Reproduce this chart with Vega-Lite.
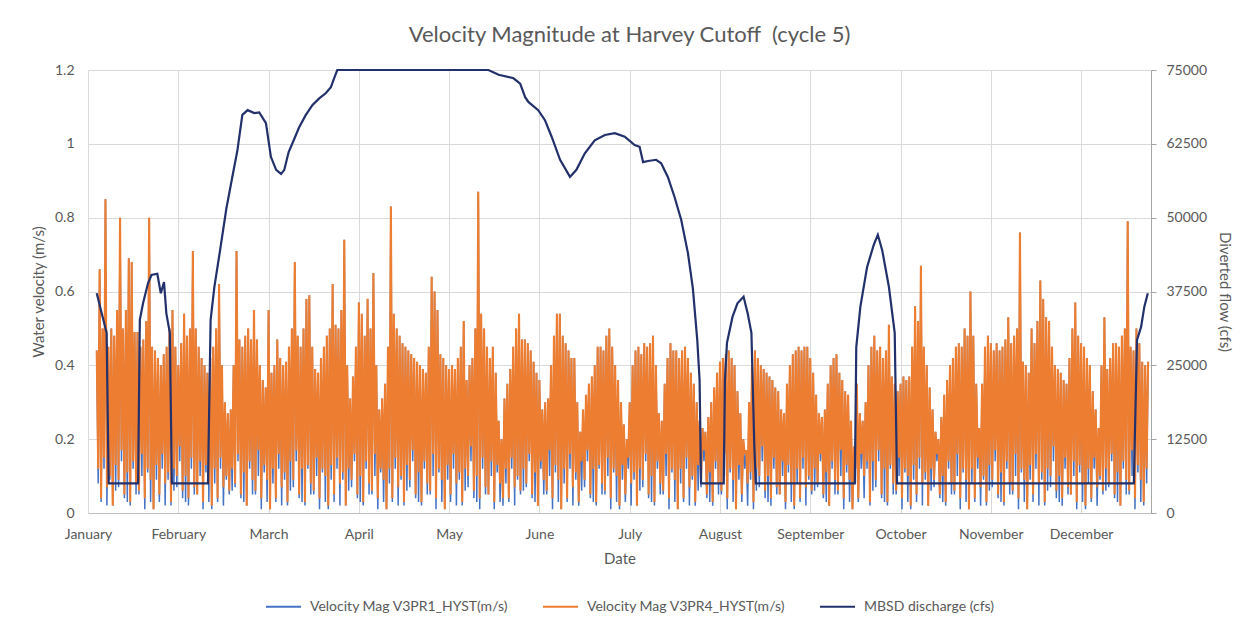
{
  "$schema": "https://vega.github.io/schema/vega-lite/v6.json",
  "width": 1063,
  "height": 443,
  "autosize": {"type": "none"},
  "padding": {"left": 88, "top": 70, "right": 100, "bottom": 115},
  "background": "white",
  "title": {
    "text": "Velocity Magnitude at Harvey Cutoff \u00a0(cycle 5)",
    "font": "Lato",
    "fontSize": 22,
    "fontWeight": "normal",
    "color": "#595959",
    "anchor": "middle",
    "offset": 16,
    "dx": 10
  },
  "config": {
    "font": "Lato",
    "view": {"stroke": null},
    "axis": {
      "labelColor": "#595959",
      "labelFontSize": 14,
      "titleColor": "#595959",
      "titleFontSize": 15,
      "titleFontWeight": "normal",
      "gridColor": "#d9d9d9",
      "gridWidth": 1
    }
  },
  "datasets": {
    "vel": [
      {"d":3,"o":0.44,"b":0.44},{"d":3.5,"o":0.12,"b":0.08},
      {"d":4,"o":0.66,"b":0.66},{"d":4.5,"o":0.04,"b":0.03},
      {"d":5,"o":0.50,"b":0.50},{"d":5.5,"o":0.15,"b":0.12},
      {"d":6,"o":0.85,"b":0.85},{"d":6.5,"o":0.07,"b":0.02},
      {"d":7,"o":0.45,"b":0.45},{"d":7.5,"o":0.10,"b":0.09},
      {"d":8,"o":0.50,"b":0.50},{"d":8.5,"o":0.02,"b":0.02},
      {"d":9,"o":0.48,"b":0.48},{"d":9.5,"o":0.13,"b":0.06},
      {"d":10,"o":0.55,"b":0.55},{"d":10.5,"o":0.09,"b":0.07},
      {"d":11,"o":0.80,"b":0.80},{"d":11.5,"o":0.17,"b":0.14},
      {"d":12,"o":0.50,"b":0.50},{"d":12.5,"o":0.05,"b":0.04},
      {"d":13,"o":0.55,"b":0.55},{"d":13.5,"o":0.11,"b":0.03},
      {"d":14,"o":0.69,"b":0.69},{"d":14.5,"o":0.03,"b":0.02},
      {"d":15,"o":0.68,"b":0.68},{"d":15.5,"o":0.14,"b":0.12},
      {"d":16,"o":0.49,"b":0.49},{"d":16.5,"o":0.08,"b":0.05},
      {"d":17,"o":0.49,"b":0.49},{"d":17.5,"o":0.06,"b":0.05},
      {"d":18,"o":0.45,"b":0.45},{"d":18.5,"o":0.16,"b":0.10},
      {"d":19,"o":0.47,"b":0.47},{"d":19.5,"o":0.04,"b":0.01},
      {"d":20,"o":0.52,"b":0.52},{"d":20.5,"o":0.12,"b":0.11},
      {"d":21,"o":0.80,"b":0.80},{"d":21.5,"o":0.09,"b":0.03},
      {"d":22,"o":0.45,"b":0.45},{"d":22.5,"o":0.01,"b":0.01},
      {"d":23,"o":0.44,"b":0.44},{"d":23.5,"o":0.13,"b":0.09},
      {"d":24,"o":0.42,"b":0.42},{"d":24.5,"o":0.05,"b":0.03},
      {"d":25,"o":0.40,"b":0.40},{"d":25.5,"o":0.16,"b":0.12},
      {"d":26,"o":0.43,"b":0.43},{"d":26.5,"o":0.08,"b":0.02},
      {"d":27,"o":0.45,"b":0.45},{"d":27.5,"o":0.11,"b":0.09},
      {"d":28,"o":0.50,"b":0.50},{"d":28.5,"o":0.03,"b":0.02},
      {"d":29,"o":0.55,"b":0.55},{"d":29.5,"o":0.12,"b":0.06},
      {"d":30,"o":0.45,"b":0.45},{"d":30.5,"o":0.10,"b":0.07},
      {"d":31,"o":0.40,"b":0.40},{"d":31.5,"o":0.18,"b":0.14},
      {"d":32,"o":0.46,"b":0.46},{"d":32.5,"o":0.06,"b":0.04},
      {"d":33,"o":0.54,"b":0.54},{"d":33.5,"o":0.10,"b":0.03},
      {"d":34,"o":0.48,"b":0.48},{"d":34.5,"o":0.04,"b":0.02},
      {"d":35,"o":0.50,"b":0.50},{"d":35.5,"o":0.15,"b":0.12},
      {"d":36,"o":0.71,"b":0.71},{"d":36.5,"o":0.07,"b":0.05},
      {"d":37,"o":0.50,"b":0.50},{"d":37.5,"o":0.05,"b":0.05},
      {"d":38,"o":0.45,"b":0.45},{"d":38.5,"o":0.14,"b":0.10},
      {"d":39,"o":0.42,"b":0.42},{"d":39.5,"o":0.03,"b":0.01},
      {"d":40,"o":0.40,"b":0.40},{"d":40.5,"o":0.13,"b":0.11},
      {"d":41,"o":0.38,"b":0.38},{"d":41.5,"o":0.08,"b":0.03},
      {"d":42,"o":0.42,"b":0.42},{"d":42.5,"o":0.02,"b":0.01},
      {"d":43,"o":0.45,"b":0.45},{"d":43.5,"o":0.12,"b":0.08},
      {"d":44,"o":0.50,"b":0.50},{"d":44.5,"o":0.04,"b":0.03},
      {"d":45,"o":0.62,"b":0.62},{"d":45.5,"o":0.15,"b":0.12},
      {"d":46,"o":0.40,"b":0.40},{"d":46.5,"o":0.07,"b":0.02},
      {"d":47,"o":0.30,"b":0.30},{"d":47.5,"o":0.10,"b":0.09},
      {"d":48,"o":0.27,"b":0.27},{"d":48.5,"o":0.06,"b":0.05},
      {"d":49,"o":0.28,"b":0.28},{"d":49.5,"o":0.12,"b":0.06},
      {"d":50,"o":0.40,"b":0.40},{"d":50.5,"o":0.08,"b":0.07},
      {"d":51,"o":0.71,"b":0.71},{"d":51.5,"o":0.16,"b":0.14},
      {"d":52,"o":0.47,"b":0.47},{"d":52.5,"o":0.05,"b":0.04},
      {"d":53,"o":0.45,"b":0.45},{"d":53.5,"o":0.11,"b":0.03},
      {"d":54,"o":0.48,"b":0.48},{"d":54.5,"o":0.02,"b":0.02},
      {"d":55,"o":0.50,"b":0.50},{"d":55.5,"o":0.14,"b":0.12},
      {"d":56,"o":0.47,"b":0.47},{"d":56.5,"o":0.09,"b":0.05},
      {"d":57,"o":0.55,"b":0.55},{"d":57.5,"o":0.06,"b":0.05},
      {"d":58,"o":0.47,"b":0.47},{"d":58.5,"o":0.17,"b":0.10},
      {"d":59,"o":0.40,"b":0.40},{"d":59.5,"o":0.04,"b":0.01},
      {"d":60,"o":0.36,"b":0.36},{"d":60.5,"o":0.13,"b":0.11},
      {"d":61,"o":0.34,"b":0.34},{"d":61.5,"o":0.09,"b":0.03},
      {"d":62,"o":0.55,"b":0.55},{"d":62.5,"o":0.01,"b":0.01},
      {"d":63,"o":0.38,"b":0.38},{"d":63.5,"o":0.12,"b":0.08},
      {"d":64,"o":0.40,"b":0.40},{"d":64.5,"o":0.04,"b":0.03},
      {"d":65,"o":0.47,"b":0.47},{"d":65.5,"o":0.16,"b":0.12},
      {"d":66,"o":0.42,"b":0.42},{"d":66.5,"o":0.07,"b":0.02},
      {"d":67,"o":0.40,"b":0.40},{"d":67.5,"o":0.11,"b":0.09},
      {"d":68,"o":0.41,"b":0.41},{"d":68.5,"o":0.03,"b":0.02},
      {"d":69,"o":0.45,"b":0.45},{"d":69.5,"o":0.14,"b":0.06},
      {"d":70,"o":0.50,"b":0.50},{"d":70.5,"o":0.09,"b":0.07},
      {"d":71,"o":0.68,"b":0.68},{"d":71.5,"o":0.17,"b":0.14},
      {"d":72,"o":0.48,"b":0.48},{"d":72.5,"o":0.05,"b":0.04},
      {"d":73,"o":0.45,"b":0.45},{"d":73.5,"o":0.12,"b":0.03},
      {"d":74,"o":0.50,"b":0.50},{"d":74.5,"o":0.03,"b":0.02},
      {"d":75,"o":0.58,"b":0.58},{"d":75.5,"o":0.13,"b":0.12},
      {"d":76,"o":0.59,"b":0.59},{"d":76.5,"o":0.08,"b":0.05},
      {"d":77,"o":0.45,"b":0.45},{"d":77.5,"o":0.06,"b":0.05},
      {"d":78,"o":0.39,"b":0.39},{"d":78.5,"o":0.15,"b":0.10},
      {"d":79,"o":0.38,"b":0.38},{"d":79.5,"o":0.04,"b":0.01},
      {"d":80,"o":0.42,"b":0.42},{"d":80.5,"o":0.12,"b":0.11},
      {"d":81,"o":0.45,"b":0.45},{"d":81.5,"o":0.10,"b":0.03},
      {"d":82,"o":0.48,"b":0.48},{"d":82.5,"o":0.02,"b":0.01},
      {"d":83,"o":0.50,"b":0.50},{"d":83.5,"o":0.13,"b":0.09},
      {"d":84,"o":0.62,"b":0.62},{"d":84.5,"o":0.05,"b":0.03},
      {"d":85,"o":0.51,"b":0.51},{"d":85.5,"o":0.15,"b":0.12},
      {"d":86,"o":0.50,"b":0.50},{"d":86.5,"o":0.08,"b":0.02},
      {"d":87,"o":0.55,"b":0.55},{"d":87.5,"o":0.11,"b":0.09},
      {"d":88,"o":0.74,"b":0.74},{"d":88.5,"o":0.02,"b":0.02},
      {"d":89,"o":0.40,"b":0.40},{"d":89.5,"o":0.12,"b":0.06},
      {"d":90,"o":0.31,"b":0.31},{"d":90.5,"o":0.09,"b":0.07},
      {"d":91,"o":0.37,"b":0.37},{"d":91.5,"o":0.16,"b":0.14},
      {"d":92,"o":0.45,"b":0.45},{"d":92.5,"o":0.05,"b":0.04},
      {"d":93,"o":0.57,"b":0.57},{"d":93.5,"o":0.10,"b":0.03},
      {"d":94,"o":0.54,"b":0.54},{"d":94.5,"o":0.03,"b":0.02},
      {"d":95,"o":0.48,"b":0.48},{"d":95.5,"o":0.14,"b":0.12},
      {"d":96,"o":0.58,"b":0.58},{"d":96.5,"o":0.08,"b":0.05},
      {"d":97,"o":0.50,"b":0.50},{"d":97.5,"o":0.06,"b":0.05},
      {"d":98,"o":0.65,"b":0.65},{"d":98.5,"o":0.16,"b":0.10},
      {"d":99,"o":0.40,"b":0.40},{"d":99.5,"o":0.04,"b":0.01},
      {"d":100,"o":0.28,"b":0.28},{"d":100.5,"o":0.12,"b":0.11},
      {"d":101,"o":0.31,"b":0.31},{"d":101.5,"o":0.09,"b":0.03},
      {"d":102,"o":0.35,"b":0.35},{"d":102.5,"o":0.01,"b":0.01},
      {"d":103,"o":0.45,"b":0.45},{"d":103.5,"o":0.12,"b":0.08},
      {"d":104,"o":0.83,"b":0.83},{"d":104.5,"o":0.04,"b":0.03},
      {"d":105,"o":0.54,"b":0.54},{"d":105.5,"o":0.15,"b":0.12},
      {"d":106,"o":0.50,"b":0.50},{"d":106.5,"o":0.07,"b":0.02},
      {"d":107,"o":0.48,"b":0.48},{"d":107.5,"o":0.10,"b":0.09},
      {"d":108,"o":0.46,"b":0.46},{"d":108.5,"o":0.03,"b":0.02},
      {"d":109,"o":0.45,"b":0.45},{"d":109.5,"o":0.13,"b":0.06},
      {"d":110,"o":0.44,"b":0.44},{"d":110.5,"o":0.09,"b":0.07},
      {"d":111,"o":0.43,"b":0.43},{"d":111.5,"o":0.17,"b":0.14},
      {"d":112,"o":0.42,"b":0.42},{"d":112.5,"o":0.05,"b":0.04},
      {"d":113,"o":0.41,"b":0.41},{"d":113.5,"o":0.11,"b":0.03},
      {"d":114,"o":0.40,"b":0.40},{"d":114.5,"o":0.03,"b":0.02},
      {"d":115,"o":0.39,"b":0.39},{"d":115.5,"o":0.14,"b":0.12},
      {"d":116,"o":0.38,"b":0.38},{"d":116.5,"o":0.08,"b":0.05},
      {"d":117,"o":0.45,"b":0.45},{"d":117.5,"o":0.06,"b":0.05},
      {"d":118,"o":0.64,"b":0.64},{"d":118.5,"o":0.16,"b":0.10},
      {"d":119,"o":0.60,"b":0.60},{"d":119.5,"o":0.04,"b":0.01},
      {"d":120,"o":0.55,"b":0.55},{"d":120.5,"o":0.12,"b":0.11},
      {"d":121,"o":0.43,"b":0.43},{"d":121.5,"o":0.09,"b":0.03},
      {"d":122,"o":0.42,"b":0.42},{"d":122.5,"o":0.01,"b":0.01},
      {"d":123,"o":0.40,"b":0.40},{"d":123.5,"o":0.13,"b":0.09},
      {"d":124,"o":0.39,"b":0.39},{"d":124.5,"o":0.05,"b":0.03},
      {"d":125,"o":0.40,"b":0.40},{"d":125.5,"o":0.16,"b":0.12},
      {"d":126,"o":0.39,"b":0.39},{"d":126.5,"o":0.08,"b":0.02},
      {"d":127,"o":0.42,"b":0.42},{"d":127.5,"o":0.11,"b":0.09},
      {"d":128,"o":0.45,"b":0.45},{"d":128.5,"o":0.03,"b":0.02},
      {"d":129,"o":0.52,"b":0.52},{"d":129.5,"o":0.12,"b":0.06},
      {"d":130,"o":0.36,"b":0.36},{"d":130.5,"o":0.10,"b":0.07},
      {"d":131,"o":0.40,"b":0.40},{"d":131.5,"o":0.18,"b":0.14},
      {"d":132,"o":0.42,"b":0.42},{"d":132.5,"o":0.06,"b":0.04},
      {"d":133,"o":0.50,"b":0.50},{"d":133.5,"o":0.10,"b":0.03},
      {"d":134,"o":0.87,"b":0.87},{"d":134.5,"o":0.04,"b":0.01},
      {"d":135,"o":0.54,"b":0.54},{"d":135.5,"o":0.15,"b":0.12},
      {"d":136,"o":0.50,"b":0.50},{"d":136.5,"o":0.07,"b":0.05},
      {"d":137,"o":0.45,"b":0.45},{"d":137.5,"o":0.05,"b":0.05},
      {"d":138,"o":0.42,"b":0.42},{"d":138.5,"o":0.14,"b":0.10},
      {"d":139,"o":0.45,"b":0.45},{"d":139.5,"o":0.03,"b":0.01},
      {"d":140,"o":0.38,"b":0.38},{"d":140.5,"o":0.13,"b":0.11},
      {"d":141,"o":0.25,"b":0.25},{"d":141.5,"o":0.08,"b":0.03},
      {"d":142,"o":0.20,"b":0.20},{"d":142.5,"o":0.04,"b":0.02},
      {"d":143,"o":0.31,"b":0.31},{"d":143.5,"o":0.12,"b":0.08},
      {"d":144,"o":0.35,"b":0.35},{"d":144.5,"o":0.04,"b":0.03},
      {"d":145,"o":0.39,"b":0.39},{"d":145.5,"o":0.15,"b":0.12},
      {"d":146,"o":0.45,"b":0.45},{"d":146.5,"o":0.07,"b":0.02},
      {"d":147,"o":0.50,"b":0.50},{"d":147.5,"o":0.10,"b":0.09},
      {"d":148,"o":0.54,"b":0.54},{"d":148.5,"o":0.06,"b":0.05},
      {"d":149,"o":0.47,"b":0.47},{"d":149.5,"o":0.12,"b":0.06},
      {"d":150,"o":0.47,"b":0.47},{"d":150.5,"o":0.08,"b":0.07},
      {"d":151,"o":0.46,"b":0.46},{"d":151.5,"o":0.16,"b":0.14},
      {"d":152,"o":0.44,"b":0.44},{"d":152.5,"o":0.05,"b":0.04},
      {"d":153,"o":0.41,"b":0.41},{"d":153.5,"o":0.11,"b":0.03},
      {"d":154,"o":0.38,"b":0.38},{"d":154.5,"o":0.02,"b":0.02},
      {"d":155,"o":0.36,"b":0.36},{"d":155.5,"o":0.14,"b":0.12},
      {"d":156,"o":0.28,"b":0.28},{"d":156.5,"o":0.09,"b":0.05},
      {"d":157,"o":0.30,"b":0.30},{"d":157.5,"o":0.06,"b":0.05},
      {"d":158,"o":0.31,"b":0.31},{"d":158.5,"o":0.17,"b":0.10},
      {"d":159,"o":0.40,"b":0.40},{"d":159.5,"o":0.04,"b":0.01},
      {"d":160,"o":0.48,"b":0.48},{"d":160.5,"o":0.13,"b":0.11},
      {"d":161,"o":0.54,"b":0.54},{"d":161.5,"o":0.09,"b":0.03},
      {"d":162,"o":0.54,"b":0.54},{"d":162.5,"o":0.01,"b":0.01},
      {"d":163,"o":0.48,"b":0.48},{"d":163.5,"o":0.12,"b":0.08},
      {"d":164,"o":0.46,"b":0.46},{"d":164.5,"o":0.04,"b":0.03},
      {"d":165,"o":0.44,"b":0.44},{"d":165.5,"o":0.16,"b":0.12},
      {"d":166,"o":0.42,"b":0.42},{"d":166.5,"o":0.07,"b":0.02},
      {"d":167,"o":0.42,"b":0.42},{"d":167.5,"o":0.11,"b":0.09},
      {"d":168,"o":0.30,"b":0.30},{"d":168.5,"o":0.03,"b":0.02},
      {"d":169,"o":0.22,"b":0.22},{"d":169.5,"o":0.14,"b":0.06},
      {"d":170,"o":0.28,"b":0.28},{"d":170.5,"o":0.09,"b":0.07},
      {"d":171,"o":0.32,"b":0.32},{"d":171.5,"o":0.17,"b":0.14},
      {"d":172,"o":0.35,"b":0.35},{"d":172.5,"o":0.05,"b":0.04},
      {"d":173,"o":0.37,"b":0.37},{"d":173.5,"o":0.12,"b":0.03},
      {"d":174,"o":0.40,"b":0.40},{"d":174.5,"o":0.03,"b":0.02},
      {"d":175,"o":0.45,"b":0.45},{"d":175.5,"o":0.13,"b":0.12},
      {"d":176,"o":0.45,"b":0.45},{"d":176.5,"o":0.08,"b":0.05},
      {"d":177,"o":0.44,"b":0.44},{"d":177.5,"o":0.06,"b":0.05},
      {"d":178,"o":0.48,"b":0.48},{"d":178.5,"o":0.15,"b":0.10},
      {"d":179,"o":0.50,"b":0.50},{"d":179.5,"o":0.04,"b":0.01},
      {"d":180,"o":0.45,"b":0.45},{"d":180.5,"o":0.12,"b":0.11},
      {"d":181,"o":0.40,"b":0.40},{"d":181.5,"o":0.10,"b":0.03},
      {"d":182,"o":0.36,"b":0.36},{"d":182.5,"o":0.02,"b":0.01},
      {"d":183,"o":0.30,"b":0.30},{"d":183.5,"o":0.13,"b":0.09},
      {"d":184,"o":0.24,"b":0.24},{"d":184.5,"o":0.05,"b":0.03},
      {"d":185,"o":0.20,"b":0.20},{"d":185.5,"o":0.15,"b":0.12},
      {"d":186,"o":0.30,"b":0.30},{"d":186.5,"o":0.08,"b":0.02},
      {"d":187,"o":0.40,"b":0.40},{"d":187.5,"o":0.11,"b":0.09},
      {"d":188,"o":0.44,"b":0.44},{"d":188.5,"o":0.02,"b":0.02},
      {"d":189,"o":0.45,"b":0.45},{"d":189.5,"o":0.12,"b":0.06},
      {"d":190,"o":0.43,"b":0.43},{"d":190.5,"o":0.09,"b":0.07},
      {"d":191,"o":0.46,"b":0.46},{"d":191.5,"o":0.16,"b":0.14},
      {"d":192,"o":0.45,"b":0.45},{"d":192.5,"o":0.05,"b":0.04},
      {"d":193,"o":0.46,"b":0.46},{"d":193.5,"o":0.10,"b":0.03},
      {"d":194,"o":0.48,"b":0.48},{"d":194.5,"o":0.03,"b":0.02},
      {"d":195,"o":0.40,"b":0.40},{"d":195.5,"o":0.14,"b":0.12},
      {"d":196,"o":0.27,"b":0.27},{"d":196.5,"o":0.08,"b":0.05},
      {"d":197,"o":0.25,"b":0.25},{"d":197.5,"o":0.06,"b":0.05},
      {"d":198,"o":0.35,"b":0.35},{"d":198.5,"o":0.16,"b":0.10},
      {"d":199,"o":0.42,"b":0.42},{"d":199.5,"o":0.04,"b":0.01},
      {"d":200,"o":0.46,"b":0.46},{"d":200.5,"o":0.12,"b":0.11},
      {"d":201,"o":0.44,"b":0.44},{"d":201.5,"o":0.09,"b":0.03},
      {"d":202,"o":0.44,"b":0.44},{"d":202.5,"o":0.01,"b":0.01},
      {"d":203,"o":0.42,"b":0.42},{"d":203.5,"o":0.12,"b":0.08},
      {"d":204,"o":0.44,"b":0.44},{"d":204.5,"o":0.04,"b":0.03},
      {"d":205,"o":0.45,"b":0.45},{"d":205.5,"o":0.15,"b":0.12},
      {"d":206,"o":0.42,"b":0.42},{"d":206.5,"o":0.07,"b":0.02},
      {"d":207,"o":0.38,"b":0.38},{"d":207.5,"o":0.10,"b":0.09},
      {"d":208,"o":0.35,"b":0.35},{"d":208.5,"o":0.03,"b":0.02},
      {"d":209,"o":0.30,"b":0.30},{"d":209.5,"o":0.13,"b":0.06},
      {"d":210,"o":0.25,"b":0.25},{"d":210.5,"o":0.09,"b":0.07},
      {"d":211,"o":0.23,"b":0.23},{"d":211.5,"o":0.17,"b":0.14},
      {"d":212,"o":0.22,"b":0.22},{"d":212.5,"o":0.05,"b":0.04},
      {"d":213,"o":0.26,"b":0.26},{"d":213.5,"o":0.11,"b":0.03},
      {"d":214,"o":0.30,"b":0.30},{"d":214.5,"o":0.03,"b":0.02},
      {"d":215,"o":0.34,"b":0.34},{"d":215.5,"o":0.14,"b":0.12},
      {"d":216,"o":0.38,"b":0.38},{"d":216.5,"o":0.08,"b":0.05},
      {"d":217,"o":0.41,"b":0.41},{"d":217.5,"o":0.06,"b":0.05},
      {"d":218,"o":0.42,"b":0.42},{"d":218.5,"o":0.16,"b":0.10},
      {"d":219,"o":0.43,"b":0.43},{"d":219.5,"o":0.04,"b":0.01},
      {"d":220,"o":0.44,"b":0.44},{"d":220.5,"o":0.12,"b":0.11},
      {"d":221,"o":0.42,"b":0.42},{"d":221.5,"o":0.09,"b":0.03},
      {"d":222,"o":0.40,"b":0.40},{"d":222.5,"o":0.01,"b":0.01},
      {"d":223,"o":0.33,"b":0.33},{"d":223.5,"o":0.13,"b":0.09},
      {"d":224,"o":0.27,"b":0.27},{"d":224.5,"o":0.05,"b":0.03},
      {"d":225,"o":0.20,"b":0.20},{"d":225.5,"o":0.16,"b":0.12},
      {"d":226,"o":0.17,"b":0.17},{"d":226.5,"o":0.08,"b":0.02},
      {"d":227,"o":0.30,"b":0.30},{"d":227.5,"o":0.11,"b":0.09},
      {"d":228,"o":0.40,"b":0.40},{"d":228.5,"o":0.03,"b":0.01},
      {"d":229,"o":0.44,"b":0.44},{"d":229.5,"o":0.12,"b":0.06},
      {"d":230,"o":0.42,"b":0.42},{"d":230.5,"o":0.10,"b":0.07},
      {"d":231,"o":0.40,"b":0.40},{"d":231.5,"o":0.18,"b":0.14},
      {"d":232,"o":0.39,"b":0.39},{"d":232.5,"o":0.06,"b":0.04},
      {"d":233,"o":0.38,"b":0.38},{"d":233.5,"o":0.10,"b":0.03},
      {"d":234,"o":0.37,"b":0.37},{"d":234.5,"o":0.04,"b":0.02},
      {"d":235,"o":0.36,"b":0.36},{"d":235.5,"o":0.15,"b":0.12},
      {"d":236,"o":0.34,"b":0.34},{"d":236.5,"o":0.07,"b":0.05},
      {"d":237,"o":0.33,"b":0.33},{"d":237.5,"o":0.05,"b":0.05},
      {"d":238,"o":0.28,"b":0.28},{"d":238.5,"o":0.14,"b":0.10},
      {"d":239,"o":0.27,"b":0.27},{"d":239.5,"o":0.03,"b":0.01},
      {"d":240,"o":0.35,"b":0.35},{"d":240.5,"o":0.13,"b":0.11},
      {"d":241,"o":0.40,"b":0.40},{"d":241.5,"o":0.08,"b":0.03},
      {"d":242,"o":0.43,"b":0.43},{"d":242.5,"o":0.02,"b":0.01},
      {"d":243,"o":0.44,"b":0.44},{"d":243.5,"o":0.12,"b":0.08},
      {"d":244,"o":0.45,"b":0.45},{"d":244.5,"o":0.04,"b":0.03},
      {"d":245,"o":0.44,"b":0.44},{"d":245.5,"o":0.15,"b":0.12},
      {"d":246,"o":0.45,"b":0.45},{"d":246.5,"o":0.07,"b":0.02},
      {"d":247,"o":0.45,"b":0.45},{"d":247.5,"o":0.10,"b":0.09},
      {"d":248,"o":0.42,"b":0.42},{"d":248.5,"o":0.06,"b":0.05},
      {"d":249,"o":0.38,"b":0.38},{"d":249.5,"o":0.12,"b":0.06},
      {"d":250,"o":0.32,"b":0.32},{"d":250.5,"o":0.08,"b":0.07},
      {"d":251,"o":0.27,"b":0.27},{"d":251.5,"o":0.16,"b":0.14},
      {"d":252,"o":0.26,"b":0.26},{"d":252.5,"o":0.05,"b":0.04},
      {"d":253,"o":0.28,"b":0.28},{"d":253.5,"o":0.11,"b":0.03},
      {"d":254,"o":0.35,"b":0.35},{"d":254.5,"o":0.02,"b":0.02},
      {"d":255,"o":0.40,"b":0.40},{"d":255.5,"o":0.14,"b":0.12},
      {"d":256,"o":0.42,"b":0.42},{"d":256.5,"o":0.09,"b":0.05},
      {"d":257,"o":0.43,"b":0.43},{"d":257.5,"o":0.06,"b":0.05},
      {"d":258,"o":0.38,"b":0.38},{"d":258.5,"o":0.17,"b":0.10},
      {"d":259,"o":0.36,"b":0.36},{"d":259.5,"o":0.04,"b":0.01},
      {"d":260,"o":0.33,"b":0.33},{"d":260.5,"o":0.13,"b":0.11},
      {"d":261,"o":0.32,"b":0.32},{"d":261.5,"o":0.09,"b":0.03},
      {"d":262,"o":0.25,"b":0.25},{"d":262.5,"o":0.01,"b":0.01},
      {"d":263,"o":0.18,"b":0.18},{"d":263.5,"o":0.12,"b":0.08},
      {"d":264,"o":0.35,"b":0.35},{"d":264.5,"o":0.04,"b":0.03},
      {"d":265,"o":0.27,"b":0.27},{"d":265.5,"o":0.16,"b":0.12},
      {"d":266,"o":0.25,"b":0.25},{"d":266.5,"o":0.10,"b":0.04},
      {"d":267,"o":0.30,"b":0.30},{"d":267.5,"o":0.14,"b":0.12},
      {"d":268,"o":0.40,"b":0.40},{"d":268.5,"o":0.03,"b":0.02},
      {"d":269,"o":0.45,"b":0.45},{"d":269.5,"o":0.14,"b":0.06},
      {"d":270,"o":0.48,"b":0.48},{"d":270.5,"o":0.09,"b":0.07},
      {"d":271,"o":0.44,"b":0.44},{"d":271.5,"o":0.17,"b":0.14},
      {"d":272,"o":0.45,"b":0.45},{"d":272.5,"o":0.05,"b":0.04},
      {"d":273,"o":0.42,"b":0.42},{"d":273.5,"o":0.12,"b":0.03},
      {"d":274,"o":0.44,"b":0.44},{"d":274.5,"o":0.03,"b":0.02},
      {"d":275,"o":0.51,"b":0.51},{"d":275.5,"o":0.13,"b":0.12},
      {"d":276,"o":0.37,"b":0.37},{"d":276.5,"o":0.08,"b":0.05},
      {"d":277,"o":0.35,"b":0.35},{"d":277.5,"o":0.06,"b":0.05},
      {"d":278,"o":0.33,"b":0.33},{"d":278.5,"o":0.15,"b":0.10},
      {"d":279,"o":0.35,"b":0.35},{"d":279.5,"o":0.04,"b":0.01},
      {"d":280,"o":0.37,"b":0.37},{"d":280.5,"o":0.12,"b":0.11},
      {"d":281,"o":0.36,"b":0.36},{"d":281.5,"o":0.10,"b":0.03},
      {"d":282,"o":0.37,"b":0.37},{"d":282.5,"o":0.02,"b":0.01},
      {"d":283,"o":0.45,"b":0.45},{"d":283.5,"o":0.13,"b":0.09},
      {"d":284,"o":0.56,"b":0.56},{"d":284.5,"o":0.05,"b":0.03},
      {"d":285,"o":0.52,"b":0.52},{"d":285.5,"o":0.15,"b":0.12},
      {"d":286,"o":0.67,"b":0.67},{"d":286.5,"o":0.08,"b":0.02},
      {"d":287,"o":0.45,"b":0.45},{"d":287.5,"o":0.11,"b":0.09},
      {"d":288,"o":0.40,"b":0.40},{"d":288.5,"o":0.02,"b":0.02},
      {"d":289,"o":0.34,"b":0.34},{"d":289.5,"o":0.12,"b":0.06},
      {"d":290,"o":0.28,"b":0.28},{"d":290.5,"o":0.09,"b":0.07},
      {"d":291,"o":0.22,"b":0.22},{"d":291.5,"o":0.16,"b":0.14},
      {"d":292,"o":0.20,"b":0.20},{"d":292.5,"o":0.05,"b":0.04},
      {"d":293,"o":0.26,"b":0.26},{"d":293.5,"o":0.10,"b":0.03},
      {"d":294,"o":0.32,"b":0.32},{"d":294.5,"o":0.03,"b":0.02},
      {"d":295,"o":0.36,"b":0.36},{"d":295.5,"o":0.14,"b":0.12},
      {"d":296,"o":0.40,"b":0.40},{"d":296.5,"o":0.08,"b":0.05},
      {"d":297,"o":0.42,"b":0.42},{"d":297.5,"o":0.06,"b":0.05},
      {"d":298,"o":0.45,"b":0.45},{"d":298.5,"o":0.16,"b":0.10},
      {"d":299,"o":0.46,"b":0.46},{"d":299.5,"o":0.04,"b":0.01},
      {"d":300,"o":0.45,"b":0.45},{"d":300.5,"o":0.12,"b":0.11},
      {"d":301,"o":0.50,"b":0.50},{"d":301.5,"o":0.09,"b":0.03},
      {"d":302,"o":0.48,"b":0.48},{"d":302.5,"o":0.01,"b":0.01},
      {"d":303,"o":0.60,"b":0.60},{"d":303.5,"o":0.12,"b":0.08},
      {"d":304,"o":0.48,"b":0.48},{"d":304.5,"o":0.04,"b":0.03},
      {"d":305,"o":0.35,"b":0.35},{"d":305.5,"o":0.15,"b":0.12},
      {"d":306,"o":0.23,"b":0.23},{"d":306.5,"o":0.07,"b":0.02},
      {"d":307,"o":0.35,"b":0.35},{"d":307.5,"o":0.10,"b":0.09},
      {"d":308,"o":0.45,"b":0.45},{"d":308.5,"o":0.03,"b":0.02},
      {"d":309,"o":0.48,"b":0.48},{"d":309.5,"o":0.13,"b":0.06},
      {"d":310,"o":0.46,"b":0.46},{"d":310.5,"o":0.09,"b":0.07},
      {"d":311,"o":0.44,"b":0.44},{"d":311.5,"o":0.17,"b":0.14},
      {"d":312,"o":0.46,"b":0.46},{"d":312.5,"o":0.05,"b":0.04},
      {"d":313,"o":0.44,"b":0.44},{"d":313.5,"o":0.11,"b":0.03},
      {"d":314,"o":0.45,"b":0.45},{"d":314.5,"o":0.03,"b":0.02},
      {"d":315,"o":0.47,"b":0.47},{"d":315.5,"o":0.14,"b":0.12},
      {"d":316,"o":0.53,"b":0.53},{"d":316.5,"o":0.08,"b":0.05},
      {"d":317,"o":0.46,"b":0.46},{"d":317.5,"o":0.06,"b":0.05},
      {"d":318,"o":0.48,"b":0.48},{"d":318.5,"o":0.16,"b":0.10},
      {"d":319,"o":0.50,"b":0.50},{"d":319.5,"o":0.04,"b":0.01},
      {"d":320,"o":0.76,"b":0.76},{"d":320.5,"o":0.12,"b":0.11},
      {"d":321,"o":0.41,"b":0.41},{"d":321.5,"o":0.09,"b":0.03},
      {"d":322,"o":0.40,"b":0.40},{"d":322.5,"o":0.01,"b":0.01},
      {"d":323,"o":0.38,"b":0.38},{"d":323.5,"o":0.13,"b":0.09},
      {"d":324,"o":0.50,"b":0.50},{"d":324.5,"o":0.05,"b":0.03},
      {"d":325,"o":0.46,"b":0.46},{"d":325.5,"o":0.16,"b":0.12},
      {"d":326,"o":0.52,"b":0.52},{"d":326.5,"o":0.08,"b":0.02},
      {"d":327,"o":0.63,"b":0.63},{"d":327.5,"o":0.11,"b":0.09},
      {"d":328,"o":0.58,"b":0.58},{"d":328.5,"o":0.03,"b":0.02},
      {"d":329,"o":0.53,"b":0.53},{"d":329.5,"o":0.12,"b":0.06},
      {"d":330,"o":0.52,"b":0.52},{"d":330.5,"o":0.10,"b":0.07},
      {"d":331,"o":0.45,"b":0.45},{"d":331.5,"o":0.18,"b":0.14},
      {"d":332,"o":0.40,"b":0.40},{"d":332.5,"o":0.06,"b":0.04},
      {"d":333,"o":0.39,"b":0.39},{"d":333.5,"o":0.10,"b":0.03},
      {"d":334,"o":0.38,"b":0.38},{"d":334.5,"o":0.04,"b":0.02},
      {"d":335,"o":0.36,"b":0.36},{"d":335.5,"o":0.15,"b":0.12},
      {"d":336,"o":0.35,"b":0.35},{"d":336.5,"o":0.07,"b":0.05},
      {"d":337,"o":0.42,"b":0.42},{"d":337.5,"o":0.05,"b":0.05},
      {"d":338,"o":0.50,"b":0.50},{"d":338.5,"o":0.14,"b":0.10},
      {"d":339,"o":0.57,"b":0.57},{"d":339.5,"o":0.03,"b":0.01},
      {"d":340,"o":0.48,"b":0.48},{"d":340.5,"o":0.13,"b":0.11},
      {"d":341,"o":0.46,"b":0.46},{"d":341.5,"o":0.08,"b":0.03},
      {"d":342,"o":0.45,"b":0.45},{"d":342.5,"o":0.02,"b":0.01},
      {"d":343,"o":0.42,"b":0.42},{"d":343.5,"o":0.12,"b":0.08},
      {"d":344,"o":0.40,"b":0.40},{"d":344.5,"o":0.04,"b":0.03},
      {"d":345,"o":0.33,"b":0.33},{"d":345.5,"o":0.15,"b":0.12},
      {"d":346,"o":0.28,"b":0.28},{"d":346.5,"o":0.07,"b":0.02},
      {"d":347,"o":0.23,"b":0.23},{"d":347.5,"o":0.10,"b":0.09},
      {"d":348,"o":0.40,"b":0.40},{"d":348.5,"o":0.06,"b":0.05},
      {"d":349,"o":0.53,"b":0.53},{"d":349.5,"o":0.12,"b":0.06},
      {"d":350,"o":0.39,"b":0.39},{"d":350.5,"o":0.08,"b":0.07},
      {"d":351,"o":0.42,"b":0.42},{"d":351.5,"o":0.16,"b":0.14},
      {"d":352,"o":0.46,"b":0.46},{"d":352.5,"o":0.05,"b":0.04},
      {"d":353,"o":0.46,"b":0.46},{"d":353.5,"o":0.11,"b":0.03},
      {"d":354,"o":0.45,"b":0.45},{"d":354.5,"o":0.02,"b":0.02},
      {"d":355,"o":0.48,"b":0.48},{"d":355.5,"o":0.14,"b":0.12},
      {"d":356,"o":0.50,"b":0.50},{"d":356.5,"o":0.09,"b":0.05},
      {"d":357,"o":0.79,"b":0.79},{"d":357.5,"o":0.06,"b":0.05},
      {"d":358,"o":0.45,"b":0.45},{"d":358.5,"o":0.17,"b":0.10},
      {"d":359,"o":0.44,"b":0.44},{"d":359.5,"o":0.04,"b":0.01},
      {"d":360,"o":0.50,"b":0.50},{"d":360.5,"o":0.13,"b":0.11},
      {"d":361,"o":0.46,"b":0.46},{"d":361.5,"o":0.09,"b":0.03},
      {"d":362,"o":0.41,"b":0.41},{"d":362.5,"o":0.03,"b":0.02},
      {"d":363,"o":0.40,"b":0.40},{"d":363.5,"o":0.12,"b":0.08},
      {"d":364,"o":0.41,"b":0.41}
    ],
    "flow": [
      {"d":3.0,"q":37200},{"d":4.7,"q":33800},{"d":6.4,"q":30500},{"d":6.9,"q":12000},{"d":7.1,"q":5000},
      {"d":17.2,"q":5000},{"d":17.8,"q":32700},{"d":18.9,"q":35500},{"d":20.6,"q":38900},{"d":21.8,"q":40300},
      {"d":23.8,"q":40500},{"d":25.0,"q":37200},{"d":26.1,"q":39100},{"d":26.9,"q":33800},{"d":28.1,"q":30500},
      {"d":28.6,"q":12000},{"d":28.8,"q":5000},{"d":41.2,"q":5000},{"d":42.1,"q":32700},{"d":43.4,"q":38300},
      {"d":45.2,"q":44000},{"d":47.5,"q":51500},{"d":49.6,"q":57000},{"d":51.3,"q":61400},{"d":53.0,"q":67400},
      {"d":54.8,"q":68200},{"d":57.1,"q":67700},{"d":58.8,"q":67800},{"d":61.1,"q":66000},{"d":62.8,"q":60300},
      {"d":64.6,"q":58100},{"d":66.3,"q":57400},{"d":67.4,"q":58100},{"d":68.9,"q":61100},{"d":70.2,"q":62600},
      {"d":72.5,"q":65300},{"d":74.8,"q":67400},{"d":77.1,"q":69100},{"d":79.4,"q":70200},{"d":81.7,"q":71100},
      {"d":83.4,"q":72100},{"d":84.5,"q":73600},{"d":85.6,"q":75000},{"d":137.5,"q":75000},{"d":141.0,"q":74200},
      {"d":146.1,"q":73600},{"d":148.4,"q":72700},{"d":150.1,"q":70400},{"d":151.2,"q":69600},{"d":154.6,"q":68200},
      {"d":156.9,"q":66500},{"d":159.2,"q":63700},{"d":162.1,"q":59800},{"d":165.5,"q":56900},{"d":167.7,"q":58100},
      {"d":170.6,"q":60900},{"d":174.0,"q":63100},{"d":177.5,"q":64000},{"d":180.9,"q":64300},{"d":184.3,"q":63700},
      {"d":187.7,"q":62300},{"d":189.4,"q":62000},{"d":190.6,"q":59400},{"d":192.3,"q":59600},{"d":195.1,"q":59800},
      {"d":196.8,"q":59200},{"d":199.1,"q":56900},{"d":201.4,"q":53500},{"d":203.7,"q":49600},{"d":206.0,"q":44000},
      {"d":207.7,"q":38000},{"d":209.2,"q":29300},{"d":210.0,"q":22500},{"d":210.5,"q":5000},{"d":218.3,"q":5000},
      {"d":218.7,"q":22500},{"d":219.4,"q":28800},{"d":221.3,"q":33200},{"d":223.0,"q":35500},{"d":225.1,"q":36600},
      {"d":226.5,"q":33800},{"d":227.8,"q":30500},{"d":228.8,"q":11200},{"d":229.3,"q":5000},{"d":263.3,"q":5000},
      {"d":263.8,"q":28100},{"d":265.2,"q":34900},{"d":267.5,"q":41600},{"d":269.8,"q":45400},{"d":271.2,"q":47100},
      {"d":272.7,"q":44500},{"d":275.0,"q":38300},{"d":277.0,"q":30500},{"d":277.8,"q":5000},{"d":359.1,"q":5000},
      {"d":360.2,"q":29300},{"d":361.6,"q":31500},{"d":362.7,"q":34900},{"d":363.9,"q":37200}
    ]
  },
  "encoding": {
    "x": {
      "field": "d",
      "type": "quantitative",
      "scale": {"domain": [0, 365], "nice": false, "zero": false},
      "axis": {
        "title": "Date",
        "values": [0, 31, 62, 93, 124, 155, 186, 217, 248, 279, 310, 341],
        "labelExpr": "['January','February','March','April','May','June','July','August','September','October','November','December'][round(datum.value / 31)]",
        "labelFlush": false,
        "labelBound": false,
        "labelOverlap": false,
        "grid": true,
        "ticks": false,
        "domainColor": "#bfbfbf",
        "labelPadding": 14,
        "titlePadding": 10
      }
    }
  },
  "layer": [
    {
      "data": {"name": "vel"},
      "layer": [
        {
          "mark": {"type": "line", "strokeWidth": 1.5},
          "encoding": {
            "y": {
              "field": "b",
              "type": "quantitative",
              "scale": {"domain": [0, 1.2], "nice": false},
              "axis": {
                "title": "Water velocity (m/s)",
                "values": [0, 0.2, 0.4, 0.6, 0.8, 1, 1.2],
                "format": "~g",
                "grid": true,
                "domain": false,
                "ticks": false,
                "labelPadding": 14,
                "titlePadding": 8
              }
            },
            "color": {
              "datum": "Velocity Mag V3PR1_HYST(m/s)",
              "type": "nominal",
              "scale": {
                "domain": ["Velocity Mag V3PR1_HYST(m/s)", "Velocity Mag V3PR4_HYST(m/s)", "MBSD discharge (cfs)"],
                "range": ["#4472c4", "#ed7d31", "#22306b"]
              },
              "legend": {
                "title": null,
                "orient": "none",
                "legendX": 177,
                "legendY": 518,
                "direction": "horizontal",
                "symbolType": "stroke",
                "symbolSize": 1225,
                "symbolStrokeWidth": 2,
                "labelFontSize": 14,
                "labelColor": "#595959",
                "labelLimit": 400,
                "labelOffset": 8,
                "columnPadding": 30
              }
            }
          }
        },
        {
          "mark": {"type": "line", "strokeWidth": 2.1},
          "encoding": {
            "y": {
              "field": "o",
              "type": "quantitative",
              "scale": {"domain": [0, 1.2], "nice": false},
              "axis": {
                "title": "Water velocity (m/s)",
                "values": [0, 0.2, 0.4, 0.6, 0.8, 1, 1.2],
                "format": "~g",
                "grid": true,
                "domain": false,
                "ticks": false,
                "labelPadding": 14,
                "titlePadding": 8
              }
            },
            "color": {"datum": "Velocity Mag V3PR4_HYST(m/s)", "type": "nominal"}
          }
        }
      ]
    },
    {
      "data": {"name": "flow"},
      "mark": {"type": "line", "strokeWidth": 2.2},
      "encoding": {
        "y": {
          "field": "q",
          "type": "quantitative",
          "scale": {"domain": [0, 75000], "nice": false},
          "axis": {
            "orient": "right",
            "title": "Diverted flow (cfs)",
            "values": [0, 12500, 25000, 37500, 50000, 62500, 75000],
            "format": "d",
            "grid": false,
            "domain": true,
            "domainColor": "#a6a6a6",
            "ticks": true,
            "tickColor": "#a6a6a6",
            "tickSize": 5,
            "labelPadding": 10,
            "titlePadding": 10
          }
        },
        "color": {"datum": "MBSD discharge (cfs)", "type": "nominal"}
      }
    }
  ],
  "resolve": {"scale": {"y": "independent"}}
}
